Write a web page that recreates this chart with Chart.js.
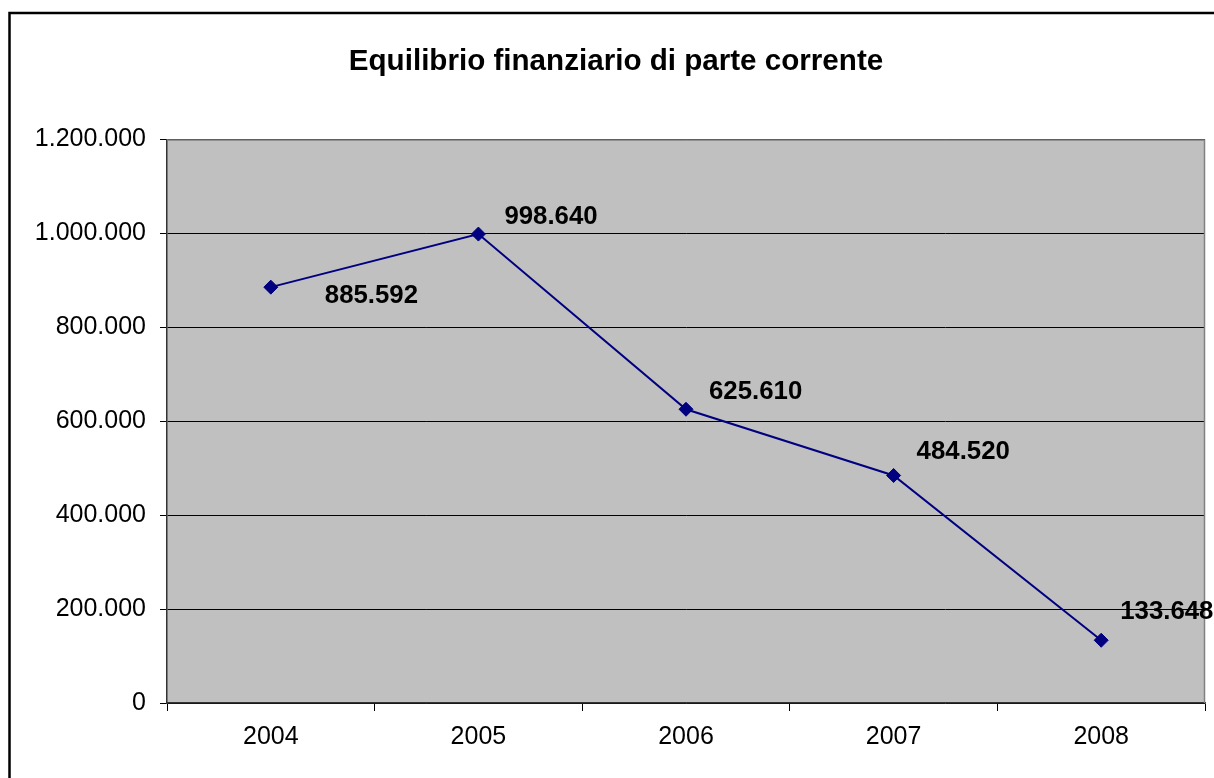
<!DOCTYPE html>
<html>
<head>
<meta charset="utf-8">
<script src="https://cdn.jsdelivr.net/npm/chart.js"></script>
<style>
  html, body { margin: 0; padding: 0; background: #fff; }
  #wrap { width: 1214px; height: 778px; }
</style>
</head>
<body>
<div id="wrap"><canvas id="c" width="1214" height="778"></canvas></div>
<script>
// data
const years = ["2004", "2005", "2006", "2007", "2008"];
const saldo = [885592, 998640, 625610, 484520, 133648];
const yTicks = [0, 200000, 400000, 600000, 800000, 1000000, 1200000];

// label offsets from each point (left edge, vertical centre)
const labelOffsets = [[54, 9], [26, -17], [23, -17], [23, -24], [19, -28]];

const FONT = "Arial, 'Liberation Sans', sans-serif";

function fmtIt(v) {
    return String(Math.round(v)).replace(/\B(?=(\d{3})+(?!\d))/g, ".");
}

// white page, outer frame, grey plot area
const frame = {
    id: "frame",
    beforeDraw(chart) {
        const ctx = chart.ctx;
        const a = chart.chartArea;
        ctx.save();
        ctx.fillStyle = "#fff";
        ctx.fillRect(0, 0, chart.width, chart.height);
        ctx.strokeStyle = "#000";
        ctx.lineWidth = 2.5;
        ctx.strokeRect(9.5, 13, 1400, 1000);
        ctx.fillStyle = "#C0C0C0";
        ctx.fillRect(a.left, a.top, a.right - a.left, a.bottom - a.top);
        ctx.restore();
    },
    beforeDatasetsDraw(chart) {
        const ctx = chart.ctx;
        const a = chart.chartArea;
        ctx.save();
        ctx.strokeStyle = "#808080";
        ctx.lineWidth = 1.5;
        ctx.beginPath();
        ctx.moveTo(a.left, a.top + 0.5);
        ctx.lineTo(a.right - 0.5, a.top + 0.5);
        ctx.lineTo(a.right - 0.5, a.bottom);
        ctx.stroke();
        ctx.restore();
    }
};

const valueLabels = {
    id: "valueLabels",
    afterDatasetsDraw(chart) {
        const ctx = chart.ctx;
        const meta = chart.getDatasetMeta(0);
        ctx.save();
        ctx.font = "bold 25.8px " + FONT;
        ctx.fillStyle = "#000";
        ctx.textAlign = "left";
        ctx.textBaseline = "middle";
        meta.data.forEach((pt, i) => {
            const off = labelOffsets[i];
            ctx.fillText(fmtIt(saldo[i]), pt.x + off[0], pt.y + off[1]);
        });
        ctx.restore();
    }
};

new Chart(document.getElementById("c"), {
    type: "line",
    data: {
        labels: years,
        datasets: [{
            data: saldo,
            borderColor: "#000080",
            backgroundColor: "#000080",
            borderWidth: 2,
            pointStyle: "rectRot",
            pointRadius: 7,
            pointBorderWidth: 1,
            pointBorderColor: "#000080",
            pointBackgroundColor: "#000080",
            tension: 0,
            clip: false
        }]
    },
    options: {
        responsive: false,
        animation: false,
        layout: { padding: { left: 27, right: 9, top: 0, bottom: 0 } },
        plugins: {
            legend: { display: false },
            tooltip: { enabled: false },
            title: {
                display: true,
                text: "Equilibrio finanziario di parte corrente",
                color: "#000",
                font: { family: FONT, size: 29.6, weight: "bold" },
                padding: { top: 44, bottom: 60 }
            }
        },
        scales: {
            x: {
                offset: true,
                grid: {
                    offset: true,
                    drawOnChartArea: false,
                    drawTicks: true,
                    tickLength: 8,
                    color: "#000"
                },
                border: { color: "#333", width: 1.5 },
                ticks: {
                    color: "#000",
                    padding: 11,
                    font: { family: FONT, size: 25 }
                },
                afterFit(scale) { scale.height = 75; }
            },
            y: {
                min: 0,
                max: 1200000,
                afterBuildTicks(scale) {
                    scale.ticks = yTicks.map(v => ({ value: v }));
                },
                grid: {
                    color: "#000",
                    lineWidth: 1,
                    tickLength: 7
                },
                border: { color: "#333", width: 1.5 },
                ticks: {
                    color: "#000",
                    padding: 14,
                    font: { family: FONT, size: 25 },
                    callback: v => fmtIt(v)
                },
                afterFit(scale) { scale.width = 140; }
            }
        }
    },
    plugins: [frame, valueLabels]
});
</script>
</body>
</html>
